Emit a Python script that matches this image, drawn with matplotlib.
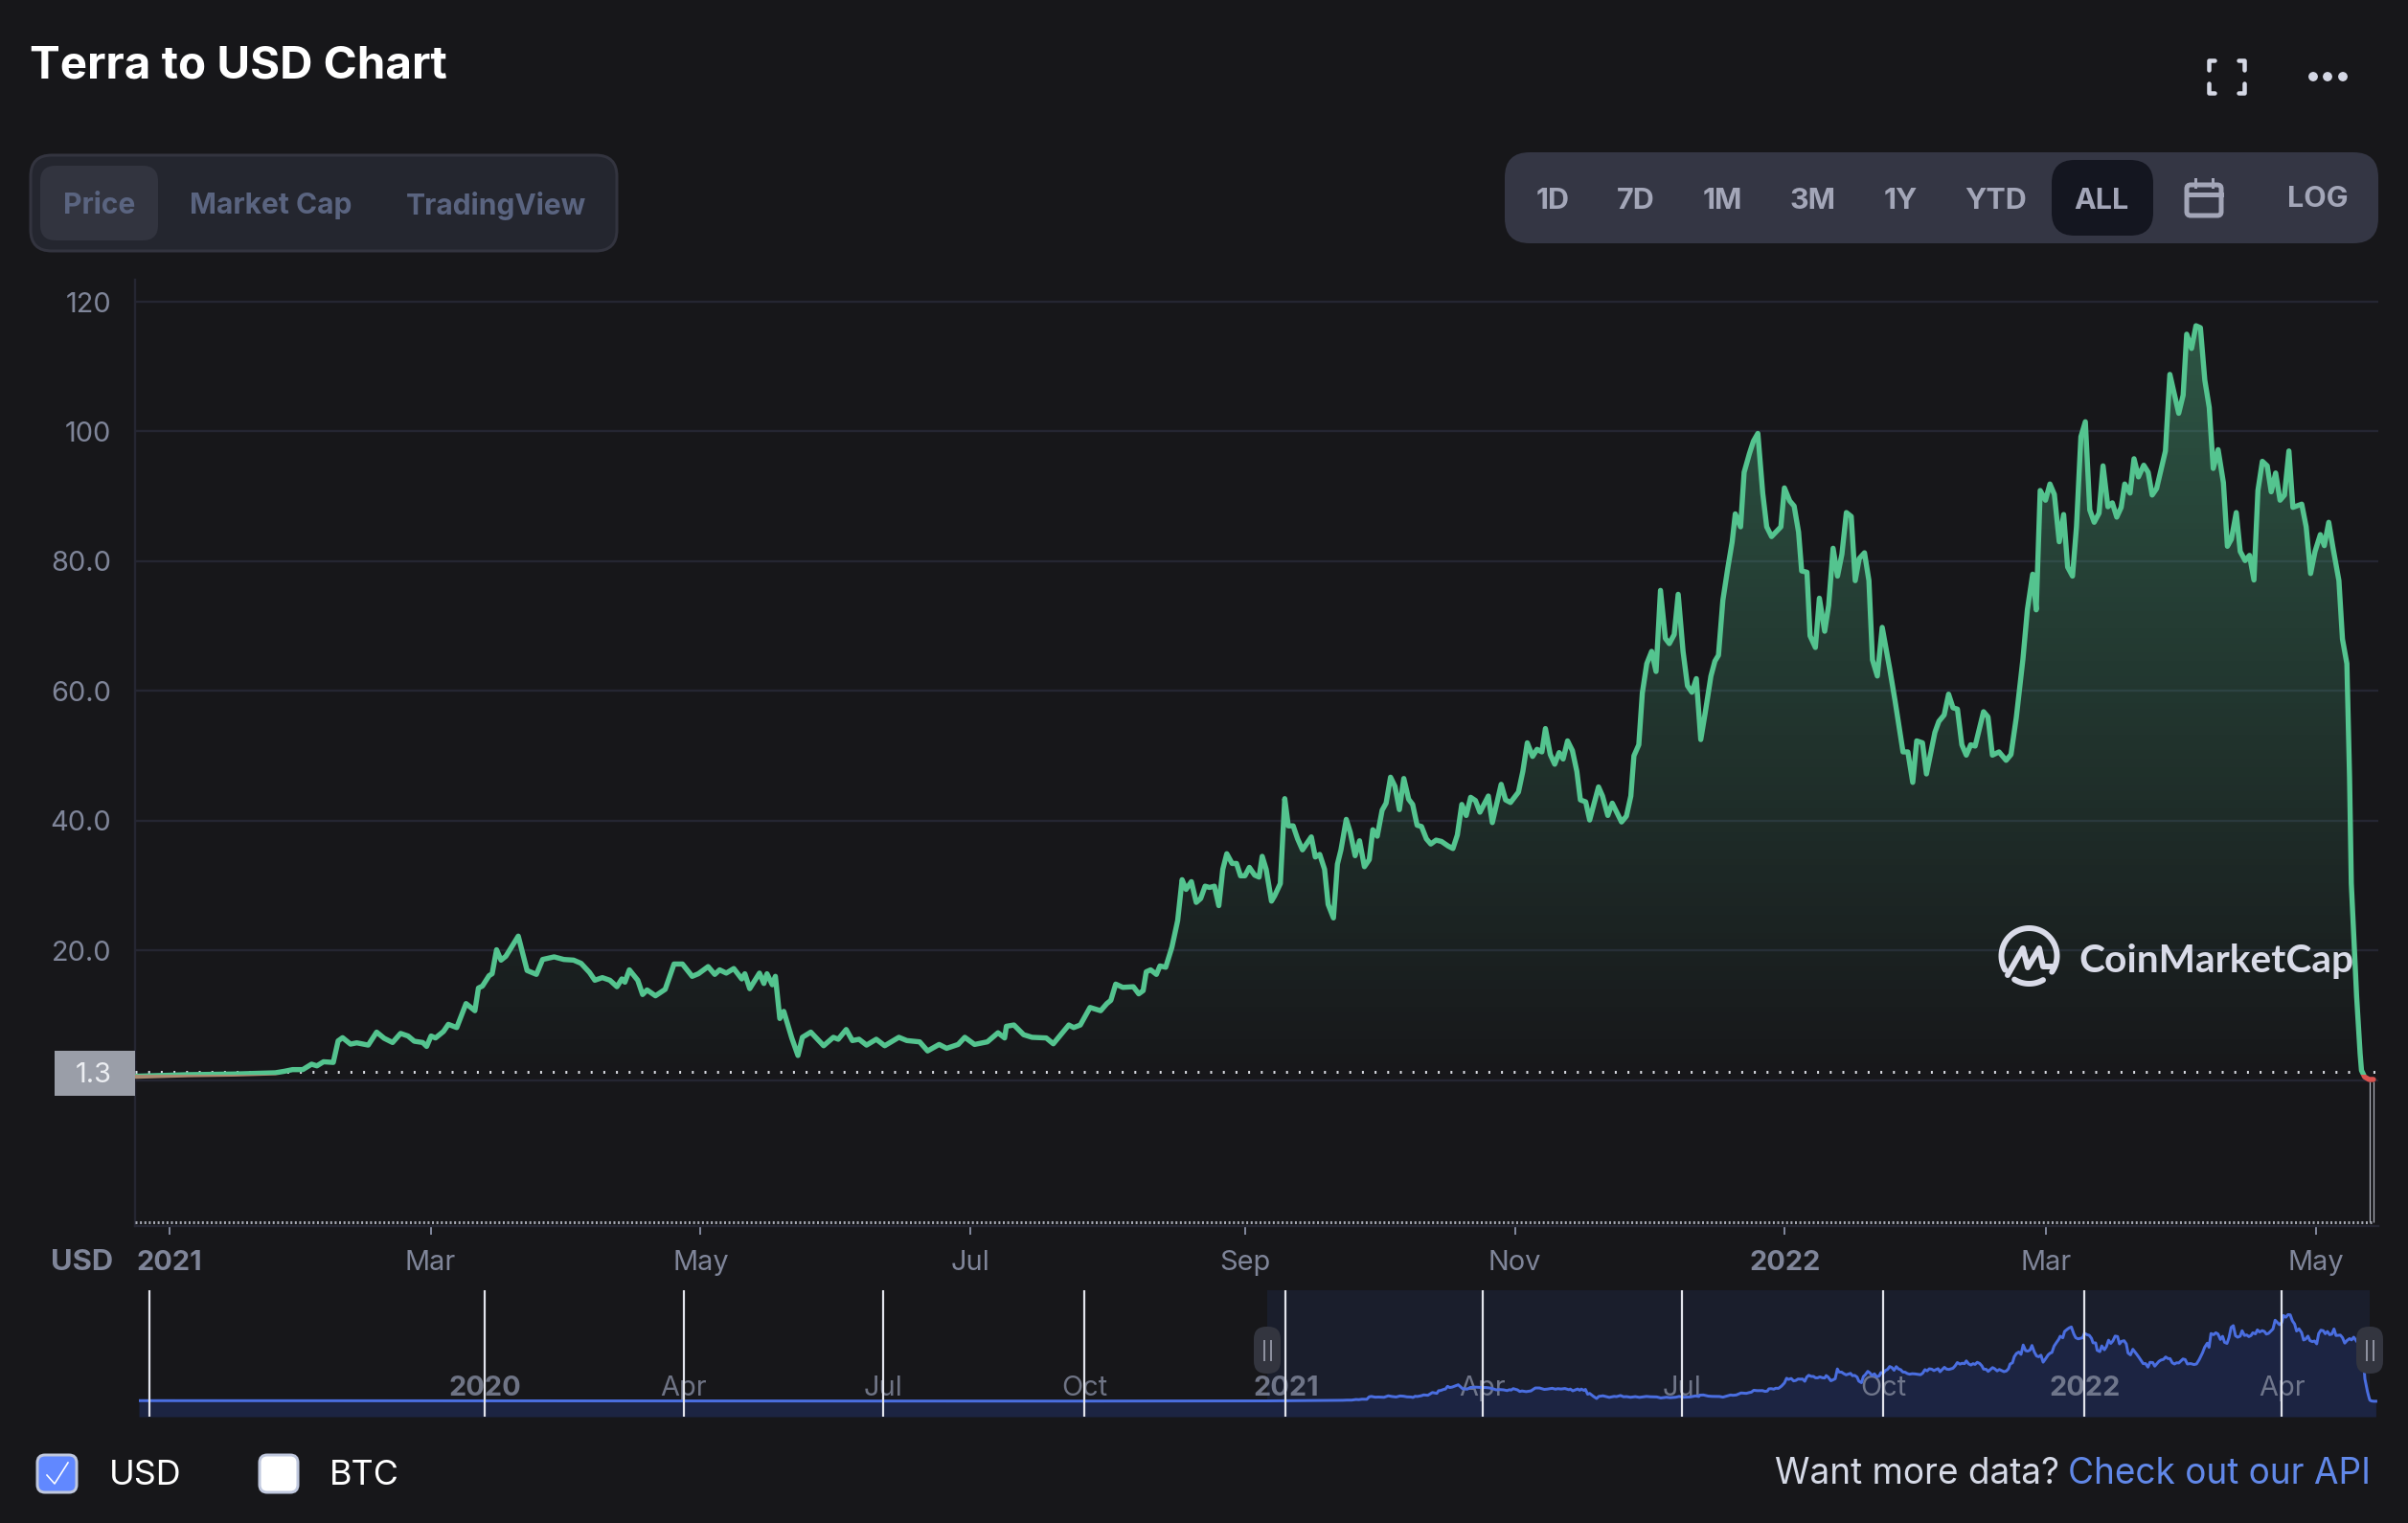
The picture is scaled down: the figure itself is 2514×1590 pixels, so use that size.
"""Terra to USD price chart, dark CoinMarketCap layout."""

from __future__ import annotations

import matplotlib

matplotlib.use("Agg", force=True)
import matplotlib.pyplot as plt
import numpy as np
from matplotlib.patches import Circle, FancyBboxPatch, Rectangle

# days since 2021-01-01 and price in USD
days_2021_h1 = [-7.6, 4.3, 14.5, 23.9, 26, 27.8, 30.1, 32.1, 33.3, 34.8, 37, 38.1, 39.1, 40.9, 42.3, 43.8, 44.9, 46.8, 48.5, 50.4,
                52.2, 53.9, 55.3, 57.2, 58.1, 59.1, 60.1, 61.9, 63, 64.9, 67, 69, 69.8, 70.7, 72.2, 72.9, 73.9, 74.9, 76, 78.8,
                80.8, 82.9, 84.3, 86.9, 89.1, 91.3, 93, 94.9, 96.1, 97.8, 99.5, 101.1, 102.2, 102.9, 103.9, 105.8, 106.9, 107.9, 109.8, 112,
                114, 115.9, 118.1, 119.5, 121.7, 123.2, 124.3, 125.8, 127.5, 129.3, 130, 131.1, 133.3, 134.3, 135, 136.2, 136.9, 137.9, 138.8, 140.6,
                142, 143, 144.9, 147.8, 150, 151.1, 152.9, 154.3, 155.8, 157.5, 159.7, 161.6, 164.8, 166.6, 169.5, 171.3, 173.9, 175.6, 178.2, 179.7]
prices_2021_h1 = [0.6, 0.84, 0.94, 1.13, 1.37, 1.62, 1.62, 2.46, 2.2, 2.83, 2.73, 6.05, 6.54, 5.55, 5.75, 5.55, 5.4, 7.4, 6.45, 5.8,
                  7.2, 6.8, 6.0, 5.8, 5.2, 6.8, 6.5, 7.5, 8.6, 8.1, 11.8, 10.7, 14.2, 14.5, 16.1, 16.4, 20.1, 18.5, 19.1, 22.2,
                  16.9, 16.3, 18.6, 19.0, 18.6, 18.5, 18.0, 16.6, 15.4, 15.8, 15.4, 14.4, 15.6, 15.1, 17.0, 15.4, 13.2, 13.9, 13.0, 14.0,
                  17.9, 17.9, 16.0, 16.4, 17.5, 16.3, 17.0, 16.5, 17.2, 15.6, 16.4, 14.1, 16.5, 14.9, 16.4, 14.7, 16.0, 9.5, 10.6, 6.5,
                  3.8, 6.6, 7.4, 5.3, 6.6, 6.3, 7.8, 6.1, 6.3, 5.4, 6.3, 5.3, 6.6, 6.1, 5.9, 4.5, 5.5, 4.9, 5.5, 6.6]

days_2021_q3 = [181.9, 184.8, 187.2, 188.7, 189.1, 190.8, 193, 194.9, 198.1, 199.7, 203.2, 204.3, 205.8, 208, 210.4, 211.8, 212.7, 213.8, 215.4, 217.8,
                219, 220, 220.7, 221.7, 223, 223.8, 225.1, 226.5, 227.8, 228.8, 229.7, 230.9, 232, 233, 234, 235, 236.1, 237.1, 238, 238.9,
                240.1, 241.1, 242, 243, 244, 245.2, 246.2, 246.9, 247.8, 249, 249.7, 251, 252, 252.8, 253.9, 254.9, 256, 258, 258.9, 259.9,
                261, 261.8, 263, 263.9, 264.7, 265.9, 266.8, 267.9, 268.9, 270, 271.1, 271.9, 272.9, 274, 274.9, 275.9, 276.9, 277.9, 278.9, 280]
prices_2021_q3 = [5.5, 5.9, 7.3, 6.5, 8.3, 8.5, 7.0, 6.6, 6.5, 5.6, 8.5, 8.1, 8.5, 11.2, 10.7, 11.8, 12.3, 14.8, 14.3, 14.4,
                  13.3, 13.8, 16.7, 17.0, 16.3, 17.6, 17.4, 20.5, 24.6, 30.9, 29.4, 30.6, 27.4, 28, 29.9, 29.7, 29.9, 26.9, 32.5, 34.9,
                  33.4, 33.4, 31.5, 31.5, 32.8, 31.6, 31.3, 34.5, 32.5, 27.6, 28.4, 30.3, 43.4, 39.2, 39.2, 37.2, 35.5, 37.5, 34.4, 34.8,
                  32.5, 27.1, 25, 33.3, 35.5, 40.2, 38.2, 34.6, 36.9, 32.9, 34, 38.6, 37.6, 41.6, 42.7, 46.7, 45.3, 41.7, 46.5, 43.3]

days_2021_q4 = [280.9, 281.9, 282.9, 284, 285, 286.2, 287.4, 288.9, 290, 291, 292, 293, 294, 295.1, 296.1, 298, 298.9, 300.9, 301.9, 303,
                304.8, 305.8, 306.8, 308, 309, 310.1, 310.9, 312, 313, 314, 314.9, 315.9, 317, 318, 318.8, 320, 320.9, 322.9, 323.8, 325,
                326, 326.8, 328.1, 329.2, 330.2, 330.9, 332, 332.8, 333.8, 334.9, 335.9, 336.9, 338, 338.9, 340, 340.9, 342, 343, 344, 345,
                346, 347, 348.3, 349.2, 350, 351, 352.1, 353.1, 353.8, 355, 355.8, 357, 357.9, 358.9, 360, 360.9, 362, 364.1]
prices_2021_q4 = [42.5, 39.3, 39.1, 37.2, 36.4, 37, 36.8, 36.1, 35.7, 37.8, 42.5, 40.8, 43.6, 43.1, 41.3, 43.8, 39.7, 45.6, 43.2, 42.8,
                  44.4, 47.6, 52, 49.9, 51, 50.6, 54.2, 50.2, 48.7, 50.5, 49.5, 52.3, 50.8, 47.6, 43.2, 42.9, 40.1, 45.2, 43.8, 40.8,
                  42.7, 41.6, 39.8, 40.7, 43.8, 50, 51.7, 59.7, 64.2, 66.1, 63, 75.5, 68.1, 67.3, 68.7, 74.9, 66.1, 60.8, 59.8, 61.9,
                  52.5, 56.6, 62.3, 64.6, 65.5, 74, 78.9, 83, 87.3, 85.3, 93.7, 96.6, 98.5, 99.7, 90.5, 85.3, 83.8, 85.3]

days_2022_q1 = [364.9, 366.1, 367.1, 368.1, 368.8, 370, 370.7, 371.9, 372.8, 374, 374.9, 375.9, 376.9, 377.9, 378.9, 380, 380.9, 381.8, 383, 384,
                384.8, 385.9, 387, 388.7, 389.9, 391.7, 392.8, 393.9, 394.8, 396.1, 397, 398.9, 399.8, 401, 402, 403, 404, 405, 406, 407,
                408, 408.9, 409.9, 410.9, 411.9, 413.4, 415, 416.1, 417.3, 418.8, 419.8, 421, 421.8, 422.7, 423.9, 424.9, 425.9, 427, 428, 428.9,
                430, 430.9, 431.9, 432.9, 433.9, 434.9, 436, 436.9, 438, 439, 440, 441, 441.8, 443, 443.9, 444.9, 446.1, 447.1, 448, 449]
prices_2022_q1 = [91.3, 89.3, 88.5, 84.5, 78.5, 78.3, 68.5, 66.7, 74.3, 69.2, 73.2, 82, 77.7, 81.1, 87.5, 86.9, 77, 80.4, 81.3, 77,
                  64.8, 62.3, 69.8, 63.4, 58.5, 50.6, 50.6, 45.9, 52.3, 52, 47.2, 53.6, 55.3, 56.3, 59.5, 57.4, 57.2, 51.7, 50.1, 51.7,
                  51.5, 54, 56.8, 56, 50.1, 50.6, 49.3, 50.2, 55.9, 64.9, 72.5, 78, 72.5, 90.9, 89.4, 91.9, 90.3, 83, 87.2, 79.1,
                  77.7, 85.3, 99.2, 101.5, 87.9, 86, 87.4, 94.7, 88.4, 89, 86.8, 88.3, 91.9, 90.5, 95.8, 93, 94.8, 93.7, 90.2, 91.2]

days_2022_q2 = [451, 452, 454, 455, 455.8, 456.9, 457.9, 458.9, 459.9, 460.9, 461.8, 462.9, 464.1, 465, 465.9, 467, 467.9, 469, 470, 471,
                471.9, 472.9, 474, 474.9, 475.9, 476.9, 477.9, 478.9, 479.8, 481.8, 482.8, 483.8, 484.8, 486, 486.9, 487.9, 488.8, 490.2, 491, 492,
                492.6, 493, 494.2, 495, 495.3, 496, 497, 498]
prices_2022_q2 = [97, 108.8, 102.8, 105.6, 115, 112.8, 116.3, 116, 107.9, 103.7, 94.3, 97.2, 92.1, 82.3, 83.4, 87.5, 81.5, 80.1, 80.9, 77.1,
                  90.9, 95.4, 94.7, 90.7, 93.6, 89.4, 90.2, 97, 88.3, 88.8, 85.3, 78.1, 81.5, 84.1, 82.4, 86, 82.3, 77, 68, 64.2,
                  46.8, 30.3, 12.9, 4, 1.5, 0.5, 0.1, 0.1]

# older part, only visible in the navigator strip
days_before = [-524, -420, -300, -200, -100, -30]
prices_before = [0.9, 0.7, 0.5, 0.4, 0.3, 0.5]

y_ticks = [0, 20, 40, 60, 80, 100, 120]
y_labels = ["", "20.0", "40.0", "60.0", "80.0", "100", "120"]
x_tick_dates = ["2021-01-01", "2021-03-01", "2021-05-01", "2021-07-01", "2021-09-01", "2021-11-01",
                "2022-01-01", "2022-03-01", "2022-05-01"]
x_labels = ["2021", "Mar", "May", "Jul", "Sep", "Nov", "2022", "Mar", "May"]
nav_tick_dates = ["2019-08-01", "2020-01-01", "2020-04-01", "2020-07-01", "2020-10-01", "2021-01-01",
                  "2021-04-01", "2021-07-01", "2021-10-01", "2022-01-01", "2022-04-01"]
nav_labels = ["", "2020", "Apr", "Jul", "Oct", "2021", "Apr", "Jul", "Oct", "2022", "Apr"]
open_price = 1.3

W, H = 2514, 1590
BG = "#17171a"
GRID = "#252632"
MUTED = "#7f8599"
GREEN = "#54c48f"
RED = "#d9534f"
TAN = "#a98b70"
BLUE = "#4a6ee0"
BTN_TEXT = "#5a6480"
FONT = ["Inter", "DejaVu Sans"]


def px(size: float) -> float:
    """Font size in points for a pixel size at dpi 100."""
    return size * 0.72


def day_of(date: str) -> float:
    delta = np.datetime64(date) - np.datetime64("2021-01-01")
    return float(delta / np.timedelta64(1, "D"))


def axes_box(left, top, right, bottom):
    return [left / W, 1 - bottom / H, (right - left) / W, (bottom - top) / H]


def draw_price(ax, days, prices) -> None:
    ax.set_facecolor("none")
    x_min, x_max = -7.79, 499.1
    y_min, y_max = -22.5, 123.4

    # gradient area above the zero level
    poly = ax.fill_between(days, 0, prices, facecolor="none", edgecolor="none")
    levels = np.linspace(0, 1, 256)[:, None]
    rgba = np.zeros((256, 1, 4))
    rgba[..., :3] = matplotlib.colors.to_rgb(GREEN)
    rgba[..., 3] = levels * 0.36
    image = ax.imshow(rgba, extent=(x_min, x_max, 0, 116.5), origin="lower", aspect="auto", zorder=2)
    image.set_clip_path(poly.get_paths()[0], transform=ax.transData)

    ax.set_xlim(x_min, x_max)
    ax.set_ylim(y_min, y_max)
    ax.set_yticks(y_ticks, y_labels)
    ax.set_xticks([day_of(d) for d in x_tick_dates], x_labels)
    ax.grid(axis="y", color=GRID, linewidth=px(2.4))
    ax.set_axisbelow(True)
    ax.tick_params(axis="y", length=0, pad=px(25), labelsize=px(29), labelcolor=MUTED)
    ax.tick_params(axis="x", length=px(9), width=px(2), pad=px(16.5), color=MUTED, labelsize=px(29), labelcolor=MUTED)
    for label in ax.get_yticklabels():
        label.set_verticalalignment("center_baseline")
    for label in ax.get_xticklabels():
        if label.get_text().isdigit():
            label.set_fontweight("bold")
    for side in ("top", "right"):
        ax.spines[side].set_visible(False)
    for side in ("left", "bottom"):
        ax.spines[side].set_color(GRID)
        ax.spines[side].set_linewidth(px(2.4))

    split = 0.8
    line_style = dict(linewidth=px(5.4), solid_joinstyle="round", solid_capstyle="round", zorder=4)
    early, = ax.plot(days, prices, color=TAN, **line_style)
    early.set_clip_path(Rectangle((x_min, y_min), 120, split - y_min, transform=ax.transData))
    late, = ax.plot(days, prices, color=RED, **line_style)
    late.set_clip_path(Rectangle((400, y_min), 100, split - y_min, transform=ax.transData))
    green, = ax.plot(days, prices, color=GREEN, **line_style)
    green.set_clip_path(Rectangle((x_min, split), x_max - x_min, y_max, transform=ax.transData))

    # crosshair-like dotted lines
    ax.plot([x_min, x_max], [open_price, open_price], color="#d8dae0", linewidth=px(3),
            linestyle=(0, (0.67, 3.73)), dash_capstyle="butt", zorder=3)
    ax.plot([x_min, 497.6], [-21.9, -21.9], color="#a5a8b2", linewidth=px(3),
            linestyle=(0, (0.67, 0.87)), dash_capstyle="butt", zorder=3)
    ax.vlines([497.2, 498.1], -21.9, -0.2, color="#b0b3bd", linewidth=px(1.2), zorder=3)


def draw_navigator(ax, days, prices) -> None:
    ax.set_facecolor("none")
    ax.set_xlim(-524, 498.7)
    ax.set_ylim(-20.6, 149)
    ax.axis("off")
    ax.axvspan(-8.6, 495.4, color="#1a1e2c", linewidth=0, zorder=1)
    ax.fill_between(days, -20.6, prices, color="#1c2442", linewidth=0, zorder=2)
    for date, label in zip(nav_tick_dates, nav_labels):
        x = day_of(date)
        ax.text(x, 17, label, ha="center", va="center", fontsize=px(29), color=MUTED, alpha=0.85,
                fontweight="bold" if label.isdigit() else "normal", zorder=3)
        ax.vlines(x, -20.6, 149, color="#e2e4ec", linewidth=px(2.2), zorder=5)
    ax.plot(days, prices, color=BLUE, linewidth=px(3), zorder=4)


def rounded(ax, x0, y0, x1, y1, radius, face, edge="none", lw=0.0, zorder=2):
    patch = FancyBboxPatch((x0, y0), x1 - x0, y1 - y0, boxstyle=f"round,pad=0,rounding_size={radius}",
                           facecolor=face, edgecolor=edge, linewidth=lw, zorder=zorder)
    ax.add_patch(patch)


def draw_chrome(ax) -> None:
    ax.set_xlim(0, W)
    ax.set_ylim(H, 0)
    ax.axis("off")
    ax.patch.set_alpha(0)

    ax.text(31, 82, "Terra to USD Chart", color="white", fontsize=px(47.5), fontweight="bold", va="baseline")

    # left tab group
    rounded(ax, 32, 162, 644, 262, 22, "#24262f", "#33343f", px(3))
    rounded(ax, 42, 173, 165, 251, 16, "#32343f")
    for x, label in ((104, "Price"), (283, "Market Cap"), (518, "TradingView")):
        ax.text(x, 215, label, color=BTN_TEXT, fontsize=px(30), fontweight="bold", ha="center", va="center")

    # right range group
    rounded(ax, 1571, 159, 2483, 254, 26, "#343644")
    rounded(ax, 2142, 167, 2248, 246, 24, "#141620")
    ranges = ((1621, "1D"), (1708, "7D"), (1798, "1M"), (1893, "3M"), (1984, "1Y"), (2084, "YTD"), (2194, "ALL"))
    for x, label in ranges:
        ax.text(x, 210, label, color="#a3a6b8", fontsize=px(30.5), fontweight="bold", ha="center", va="center")
    ax.text(2420, 208, "LOG", color="#a3a6b8", fontsize=px(30.5), fontweight="bold", ha="center", va="center")

    # calendar icon
    cal = "#a3a6b8"
    rounded(ax, 2283, 193, 2319, 225, 4, "none", cal, px(5), zorder=3)
    ax.plot([2283, 2319], [203, 203], color=cal, linewidth=px(5), zorder=3)
    ax.plot([2292, 2292], [187, 195], color=cal, linewidth=px(3), zorder=3)
    ax.plot([2310, 2310], [187, 195], color=cal, linewidth=px(3), zorder=3)

    # fullscreen corners and menu dots
    icon = "#d5d8e5"
    x0, x1, y0, y1 = 2306, 2343, 63, 97
    corners = (((x0, y0 + 10), (x0, y0), (x0 + 6, y0)), ((x1 - 6, y0), (x1, y0), (x1, y0 + 10)),
               ((x0, y1 - 10), (x0, y1), (x0 + 6, y1)), ((x1 - 6, y1), (x1, y1), (x1, y1 - 10)))
    for corner in corners:
        ax.plot(*zip(*corner), color=icon, linewidth=px(4.5), solid_capstyle="round", solid_joinstyle="round")
    for x in (2415, 2430, 2446):
        ax.add_patch(Circle((x, 80), 4.2, color=icon))

    # current price tag
    ax.add_patch(Rectangle((57, 1096.5), 84, 47, facecolor="#9a9ea8", edgecolor="none", zorder=3))
    ax.text(97.5, 1122, "1.3", color="#eceef2", fontsize=px(29), ha="center", va="center", zorder=4)
    ax.text(86, 1318, "USD", color=MUTED, fontsize=px(31), fontweight="bold", ha="center", va="center")

    # watermark
    mark = "#d9dbe8"
    cx, cy, r = 2118.5, 998, 29
    for start, stop in ((150, 395), (60, 122)):
        t = np.radians(np.linspace(start, stop, 60))
        ax.plot(cx + r * np.cos(t), cy + r * np.sin(t), color=mark, linewidth=px(6), solid_capstyle="round")
    ax.plot([2096, 2112, 2117, 2129, 2133, 2144], [1018, 990, 1010, 990, 1009, 1009], color=mark,
            linewidth=px(6), solid_capstyle="round", solid_joinstyle="round")
    ax.text(2170, 1003, "CoinMarketCap", color=mark, fontsize=px(40.6), fontweight="bold", family="Lato", va="center")

    # navigator handles
    for x in (1323, 2474):
        rounded(ax, x - 14, 1385, x + 14, 1434, 13, "#33353f", zorder=3)
        for dx in (-3.5, 3.5):
            ax.plot([x + dx, x + dx], [1400, 1420], color="#8d909e", linewidth=px(2), zorder=4)

    # legend checkboxes
    rounded(ax, 39, 1519, 80, 1558, 8, "#6188ff", "#c0c8de", px(3))
    ax.plot([49, 57, 71], [1540, 1549, 1527], color="white", linewidth=px(1.6))
    ax.text(114, 1541, "USD", color="white", fontsize=px(36), va="center")
    rounded(ax, 271, 1519, 311, 1558, 8, "white", "#c0c8de", px(3))
    ax.text(344, 1541, "BTC", color="white", fontsize=px(36), va="center")

    ax.text(2150, 1539, "Want more data?", color="#d5d9e6", fontsize=px(37), ha="right", va="center")
    ax.text(2475, 1539, "Check out our API", color="#6188e8", fontsize=px(37), ha="right", va="center")


def main() -> None:
    plt.rcParams["font.family"] = FONT
    days = np.array(days_2021_h1 + days_2021_q3 + days_2021_q4 + days_2022_q1 + days_2022_q2)
    prices = np.array(prices_2021_h1 + prices_2021_q3 + prices_2021_q4 + prices_2022_q1 + prices_2022_q2)

    fig = plt.figure(figsize=(W / 100, H / 100), dpi=100, facecolor=BG)
    ax = fig.add_axes(axes_box(141, 292, 2483, 1280))
    draw_price(ax, days, prices)

    nav = fig.add_axes(axes_box(145, 1347, 2482, 1479))
    draw_navigator(nav, np.concatenate([days_before, days]), np.concatenate([prices_before, prices]))

    chrome = fig.add_axes([0, 0, 1, 1], zorder=5)
    draw_chrome(chrome)

    fig.savefig("out.png", dpi=100, facecolor=BG)
    plt.close(fig)


if __name__ == "__main__":
    main()
